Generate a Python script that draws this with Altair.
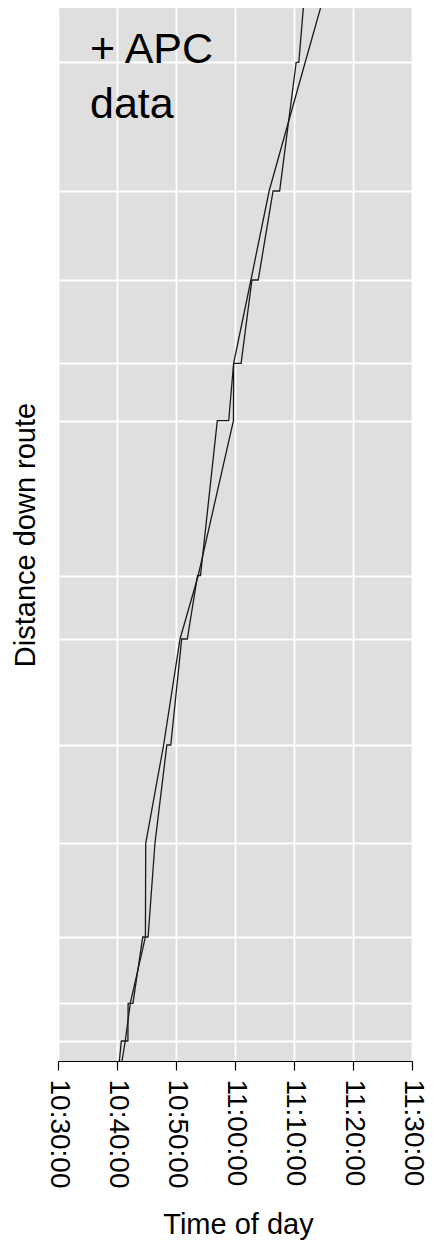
import altair as alt
import pandas as pd

# Bus stop positions along the route (metres) -> horizontal grid lines
stop_distance = [200, 577, 1240, 2177, 3160, 4220, 4855, 6403, 6977, 7810, 8700, 9987]

# APC (automatic passenger counter) trajectory: arrival/departure at each stop
apc_time = ["10:40:24", "10:40:44", "10:41:51", "10:41:53", "10:42:42", "10:44:22",
            "10:45:16", "10:46:26", "10:48:27", "10:49:07", "10:50:58", "10:51:55",
            "10:53:39", "10:54:09", "10:57:00", "10:58:56", "10:59:46", "11:01:02",
            "11:02:52", "11:03:56", "11:06:27", "11:07:34", "11:10:22", "11:10:49",
            "11:11:39"]
apc_dist = [0, 200, 200, 577, 577, 1240,
            1240, 2177, 3160, 3160, 4220, 4220,
            4855, 4855, 6403, 6403, 6977, 6977,
            7810, 7810, 8700, 8700, 9987, 9987,
            10580]

# Estimated (model) trajectory
model_time = ["10:40:51", "10:41:24", "10:42:15", "10:44:49", "10:44:52", "10:47:54",
              "10:50:41", "10:53:46", "10:59:44", "10:59:46", "11:02:42", "11:05:47",
              "11:11:54", "11:14:44"]
model_dist = [0, 200, 577, 1240, 2177, 3160,
              4220, 4855, 6403, 6977, 7810, 8700,
              9987, 10580]

x_ticks = ["10:30:00", "10:40:00", "10:50:00", "11:00:00", "11:10:00", "11:20:00", "11:30:00"]
annotation_lines = ["+ APC", "data"]

DAY = "2020-01-01T"

rows = []
for i, (t, d) in enumerate(zip(model_time, model_dist)):
    rows.append({"series": "model", "idx": i, "time": DAY + t, "dist": d})
for i, (t, d) in enumerate(zip(apc_time, apc_dist)):
    rows.append({"series": "apc", "idx": i, "time": DAY + t, "dist": d})
df = pd.DataFrame(rows)


def dt(s):
    h, m, sec = [int(v) for v in s.split(":")]
    return alt.DateTime(year=2020, month=1, date=1, hours=h, minutes=m, seconds=sec)


FONT = "Liberation Sans"

x_enc = alt.X(
    "time:T",
    scale=alt.Scale(domain=[dt(x_ticks[0]), dt(x_ticks[-1])], nice=False),
    axis=alt.Axis(
        values=[dt(t) for t in x_ticks],
        format="%H:%M:%S",
        labelAngle=90,
        labelFontSize=28,
        labelFont=FONT,
        labelColor="black",
        labelPadding=9,
        labelFlush=False,
        labelOverlap=False,
        tickSize=9,
        tickColor="black",
        tickWidth=1.2,
        domainColor="black",
        domainWidth=1.2,
        grid=True,
        gridColor="white",
        gridWidth=1.8,
        title="Time of day",
        titleFont=FONT,
        titleFontSize=29,
        titleFontWeight="normal",
        titleColor="black",
        titleBaseline="alphabetic",
        titleY=172,
        titleX=180,
    ),
)

y_enc = alt.Y(
    "dist:Q",
    scale=alt.Scale(domain=[0, 10530], nice=False, zero=False),
    axis=alt.Axis(
        values=stop_distance,
        labels=False,
        ticks=False,
        domain=False,
        grid=True,
        gridColor="white",
        gridWidth=1.8,
        title="Distance down route",
        titleFont=FONT,
        titleFontSize=29,
        titleFontWeight="normal",
        titleColor="black",
        titleBaseline="alphabetic",
        titleAngle=-90,
        titleX=-24,
    ),
)

lines = alt.Chart(df).mark_line(clip=True, color="#1a1a1a", strokeWidth=1.3).encode(
    x=x_enc,
    y=y_enc,
    detail="series:N",
    order="idx:Q",
)

ann_df = pd.DataFrame({"label": ["\n".join(annotation_lines)]})
annotation = alt.Chart(ann_df).mark_text(
    align="left",
    baseline="alphabetic",
    fontSize=43,
    font=FONT,
    lineBreak="\n",
    lineHeight=55,
    color="black",
).encode(
    x=alt.value(32),
    y=alt.value(55),
    text="label:N",
)

chart = alt.layer(lines, annotation).properties(
    width=354,
    height=1053,
    padding={"left": 50, "top": 0, "right": 14, "bottom": 179},
    autosize=alt.AutoSizeParams(type="none"),
    background="white",
).configure_view(fill="#DFDFDF", stroke=None)

chart.save("out.html", embed_options={"renderer": "svg", "actions": False})
